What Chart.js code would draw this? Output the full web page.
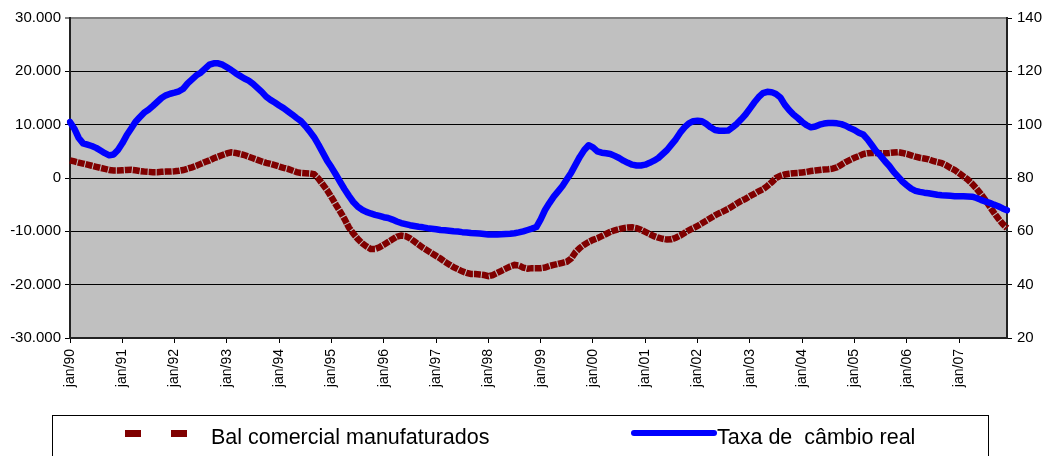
<!DOCTYPE html>
<html>
<head>
<meta charset="utf-8">
<script src="https://cdn.jsdelivr.net/npm/chart.js@4/dist/chart.umd.min.js"></script>
<style>
  body { margin: 0; background: #fff; overflow: hidden; }
  #wrap { position: relative; width: 1044px; height: 456px; font-family: "Liberation Sans", Arial, sans-serif; }
  #chart { position: absolute; left: 0; top: 0; }
  #legendBox { position: absolute; left: 52px; top: 415px; width: 937px; height: 60px; border: 1px solid #000; box-sizing: border-box; }
  .sq { position: absolute; width: 16px; height: 7px; background: #800000; }
  .txt { position: absolute; font-size: 21.5px; line-height: 24px; white-space: pre; color: #000; }
  #blueLine { position: absolute; left: 631px; top: 430px; width: 86px; height: 6px; background: #0000ff; border-radius: 3px; }
</style>
</head>
<body>
<div id="wrap">
  <canvas id="chart" width="1044" height="456"></canvas>
  <div id="legendBox"></div>
  <span class="sq" style="left:125px; top:430px"></span>
  <span class="sq" style="left:171px; top:430px"></span>
  <div class="txt" style="left:211px; top:425px">Bal comercial manufaturados</div>
  <div id="blueLine"></div>
  <div class="txt" style="left:717px; top:425px">Taxa de  câmbio real</div>
</div>
<script>
// categorias: meses jan/90 .. dez/07
const meses = ["jan", "fev", "mar", "abr", "mai", "jun", "jul", "ago", "set", "out", "nov", "dez"];
const anos = ["90", "91", "92", "93", "94", "95", "96", "97", "98", "99", "00", "01", "02", "03", "04", "05", "06", "07"];
const labels = anos.flatMap(a => meses.map(m => m + "/" + a));

// Bal comercial manufaturados (eixo esquerdo), um valor por mês
const balComercial = [
  3300, 3100, 2900, 2700, 2500, 2300, 2100, 1900, 1700, 1500, 1400, 1400,
  1450, 1500, 1550, 1450, 1300, 1200, 1150, 1100, 1100, 1150, 1200, 1200,
  1250, 1350, 1500, 1750, 2000, 2300, 2650, 3000, 3300, 3700, 4000, 4300,
  4600, 4800, 4700, 4500, 4300, 4000, 3700, 3400, 3100, 2850, 2650, 2400,
  2150, 1900, 1700, 1400, 1100, 950, 900, 850, 700, -100, -1200, -2300,
  -3600, -5000, -6300, -7700, -9300, -10400, -11400, -12200, -12800, -13300, -13300, -13000,
  -12500, -12000, -11500, -11000, -10800, -10900, -11300, -11900, -12500, -13100, -13600, -14100,
  -14600, -15100, -15700, -16200, -16700, -17100, -17500, -17800, -18000, -18000, -18100, -18200,
  -18400, -18200, -17800, -17400, -17000, -16600, -16300, -16400, -16800, -17000, -16900, -16900,
  -16900, -16800, -16500, -16300, -16100, -15900, -15700, -15100, -13900, -13100, -12500, -12000,
  -11600, -11300, -10900, -10500, -10100, -9800, -9600, -9400, -9300, -9250, -9400, -9700,
  -10100, -10500, -10900, -11200, -11400, -11550, -11500, -11200, -10800, -10300, -9800, -9400,
  -9000, -8500, -8000, -7500, -7000, -6600, -6200, -5800, -5300, -4800, -4300, -3900,
  -3400, -3000, -2500, -2100, -1500, -800, 0, 400, 650, 800, 900, 950,
  1050, 1150, 1300, 1400, 1500, 1600, 1650, 1750, 2000, 2500, 3000, 3400,
  3800, 4100, 4500, 4650, 4700, 4700, 4650, 4650, 4700, 4800, 4850, 4700,
  4500, 4250, 4000, 3800, 3650, 3500, 3200, 3000, 2800, 2400, 1900, 1500,
  900, 300, -300, -1100, -2000, -3000, -4100, -5300, -6500, -7600, -8600, -9400
];

// Taxa de câmbio real (eixo direito)
const taxaCambio = [
  101, 98.5, 95, 93, 92.5, 92, 91.3, 90.3, 89.3, 88.5, 88.8, 90.5,
  93, 96, 98.5, 101, 102.8, 104.5, 105.6, 107, 108.5, 110, 111, 111.6,
  112, 112.5, 113.5, 115.5, 117, 118.5, 119.5, 121, 122.5, 123, 123, 122.5,
  121.5, 120.5, 119.3, 118.3, 117.3, 116.5, 115.3, 113.8, 112.3, 110.5, 109.3, 108.3,
  107.2, 106.2, 105, 103.8, 102.5, 101.3, 99.5, 97.5, 95.3, 92.5, 89.5, 86.5,
  84, 81.3, 78.5, 75.8, 73.3, 71, 69.3, 68.1, 67.3, 66.7, 66.2, 65.8,
  65.3, 65, 64.4, 63.7, 63.1, 62.7, 62.3, 62, 61.7, 61.5, 61.2, 61,
  60.8, 60.5, 60.4, 60.2, 60, 59.9, 59.7, 59.6, 59.4, 59.3, 59.2, 59,
  58.8, 58.8, 58.8, 58.9, 59, 59.1, 59.3, 59.6, 60, 60.5, 61, 61.6,
  64.5, 68, 70.6, 73, 75, 77, 79.5, 82, 85, 88, 90.5, 92.3,
  91.5, 90, 89.5, 89.3, 89, 88.3, 87.5, 86.5, 85.7, 85, 84.7, 84.7,
  85, 85.7, 86.5, 87.5, 89, 90.5, 92.5, 94.5, 97, 99, 100.5, 101.3,
  101.5, 101.3, 100.3, 99, 98, 97.7, 97.7, 97.8, 99, 100.3, 102, 103.8,
  106, 108.3, 110.3, 111.8, 112.3, 112.2, 111.5, 110.2, 107.5, 105.5, 103.8, 102.5,
  101, 99.8, 99, 99.3, 100, 100.4, 100.6, 100.6, 100.5, 100.2, 99.6, 98.7,
  98, 97, 96.3, 94.5, 92.3, 90, 88.3, 86.3, 84.5, 82.3, 80.5, 78.7,
  77.3, 76, 75.2, 74.8, 74.5, 74.3, 74, 73.7, 73.5, 73.4, 73.3, 73.2,
  73.2, 73.2, 73.1, 73, 72.5, 71.8, 71.2, 70.7, 70, 69.4, 68.6, 67.9
];

// formato 30.000 / -10.000
function fmt(v) {
  const s = Math.abs(v).toString().replace(/\B(?=(\d{3})+(?!\d))/g, ".");
  return (v < 0 ? "-" : "") + s;
}

// fundo cinza da área do gráfico
const plotBg = {
  id: "plotBg",
  beforeDraw(chart) {
    const { ctx, chartArea: a } = chart;
    ctx.save();
    ctx.fillStyle = "#C0C0C0";
    ctx.fillRect(a.left, a.top, a.right - a.left, a.bottom - a.top);
    ctx.restore();
  }
};

const font = { family: "'Liberation Sans', Arial, sans-serif", size: 15 };

new Chart(document.getElementById("chart").getContext("2d"), {
  type: "line",
  data: {
    labels: labels,
    datasets: [
      {
        label: "Bal comercial manufaturados",
        data: balComercial,
        yAxisID: "y",
        borderColor: "#800000",
        borderWidth: 6.5,
        borderDash: [7, 1],
        borderCapStyle: "butt",
        pointRadius: 0,
        tension: 0,
        order: 2
      },
      {
        label: "Taxa de  câmbio real",
        data: taxaCambio,
        yAxisID: "y1",
        borderColor: "#0000FF",
        borderWidth: 6.5,
        borderCapStyle: "round",
        borderJoinStyle: "round",
        pointRadius: 0,
        tension: 0,
        order: 1
      }
    ]
  },
  options: {
    responsive: false,
    animation: false,
    devicePixelRatio: 1,
    layout: { padding: { top: 18, bottom: 58, left: 0, right: 0 } },
    plugins: {
      legend: { display: false },
      tooltip: { enabled: false }
    },
    scales: {
      x: {
        type: "category",
        afterFit: s => { s.height = 60; },
        grid: { drawOnChartArea: false, color: "#000", tickLength: 5 },
        border: { color: "#222", width: 2 },
        ticks: {
          autoSkip: false,
          minRotation: 90,
          maxRotation: 90,
          padding: 6,
          color: "#000",
          font: { family: font.family, size: 14 },
          callback: function (val) {
            const l = this.getLabelForValue(val);
            return l.startsWith("jan") ? l : null;
          }
        }
      },
      y: {
        position: "left",
        min: -30000,
        max: 30000,
        afterFit: s => { s.width = 70; },
        grid: {
          color: ctx => (ctx.tick && ctx.tick.value === 30000 ? "#808080" : "#000"),
          lineWidth: ctx => (ctx.tick && ctx.tick.value === 30000 ? 2 : 1),
          tickLength: 5
        },
        border: { color: "#222", width: 2 },
        ticks: { stepSize: 10000, padding: 4, color: "#000", font: font, callback: v => fmt(v) }
      },
      y1: {
        position: "right",
        min: 20,
        max: 140,
        afterFit: s => { s.width = 37; },
        grid: { drawOnChartArea: false, color: "#000", tickLength: 5 },
        border: { color: "#222", width: 2 },
        ticks: { stepSize: 20, padding: 5, color: "#000", font: font }
      }
    }
  },
  plugins: [plotBg]
});
</script>
</body>
</html>
